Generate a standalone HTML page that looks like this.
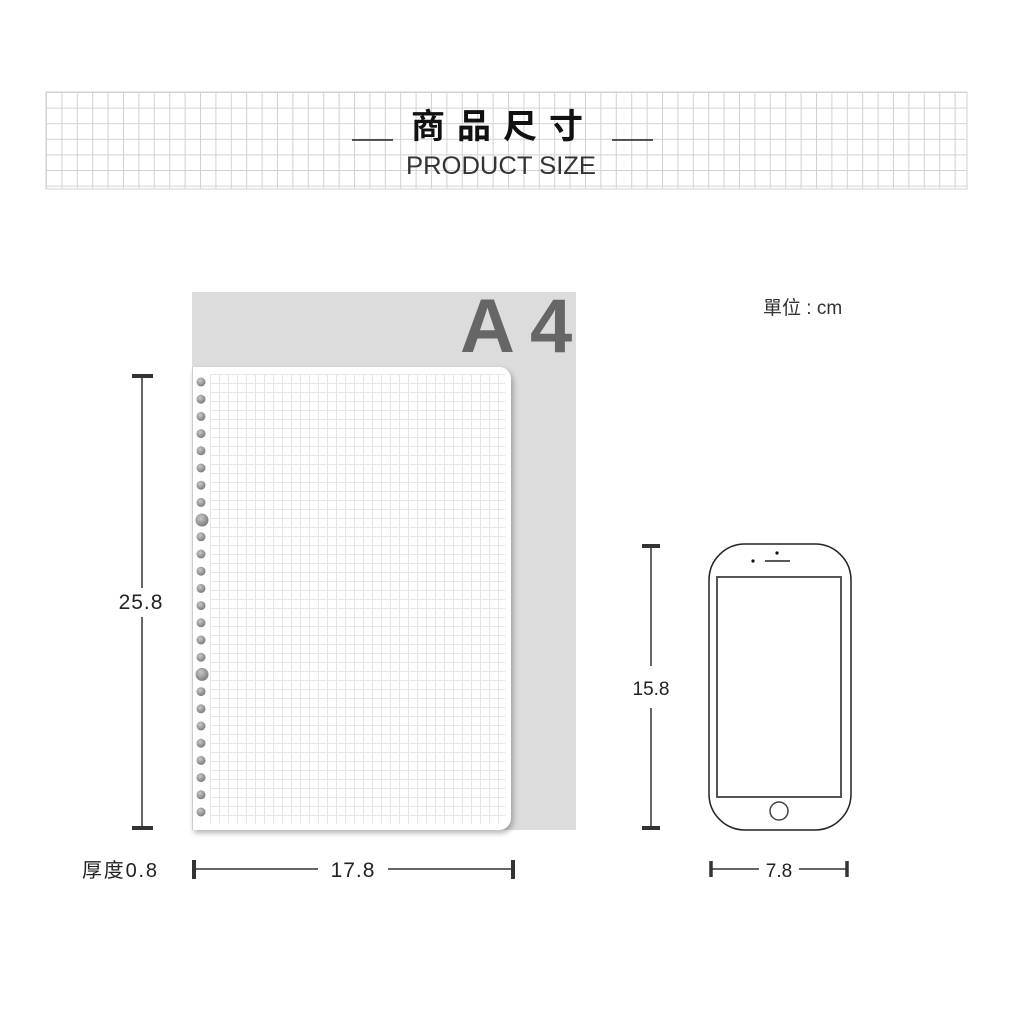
<!DOCTYPE html>
<html><head><meta charset="utf-8"><style>
html,body{margin:0;padding:0;background:#fff;}
svg{display:block;}
</style></head><body>
<svg width="1013" height="1013" viewBox="0 0 1013 1013" xmlns="http://www.w3.org/2000/svg">
<defs>
<pattern id="hg" x="46" y="92" width="15.4" height="15.6" patternUnits="userSpaceOnUse">
<path d="M0.5 0V15.6M0 0.5H15.4" stroke="#d2d2d2" stroke-width="1" fill="none"/>
</pattern>
<pattern id="ng" x="210" y="374" width="9" height="9" patternUnits="userSpaceOnUse">
<path d="M0.5 0V9M0 0.5H9" stroke="#e6e6e6" stroke-width="1" fill="none"/>
</pattern>
<radialGradient id="hole" cx="0.4" cy="0.35" r="0.7">
<stop offset="0" stop-color="#c8c8c8"/><stop offset="1" stop-color="#777"/>
</radialGradient>
<filter id="sh" x="-5%" y="-5%" width="115%" height="115%"><feDropShadow dx="2" dy="3" stdDeviation="3" flood-color="#000" flood-opacity="0.3"/></filter>
</defs>
<rect x="46" y="92" width="921" height="97" fill="url(#hg)" stroke="#d2d2d2"/>
<line x1="352" y1="140" x2="393" y2="140" stroke="#222" stroke-width="1.5"/>
<line x1="612" y1="140" x2="653" y2="140" stroke="#222" stroke-width="1.5"/>
<text x="503" y="138" text-anchor="middle" font-family="'Noto Sans CJK TC','WenQuanYi Zen Hei',sans-serif" font-size="34" font-weight="bold" letter-spacing="12" fill="#111">商品尺寸</text>
<text x="406" y="174" font-family="'Liberation Sans',sans-serif" font-size="25" fill="#333" textLength="190" lengthAdjust="spacingAndGlyphs">PRODUCT  SIZE</text>
<rect x="192" y="292" width="384" height="538" fill="#dcdcdc"/>
<text x="460" y="352" font-family="'Liberation Sans',sans-serif" font-weight="bold" font-size="76" fill="#666">A</text>
<text x="530" y="352" font-family="'Liberation Sans',sans-serif" font-weight="bold" font-size="76" fill="#666">4</text>
<path d="M192 367H499A12 12 0 0 1 511 379V818A12 12 0 0 1 499 830H192Z" fill="#fff" filter="url(#sh)"/>
<path d="M210 374H505V824H210Z" fill="url(#ng)"/>
<line x1="192.5" y1="367" x2="192.5" y2="830" stroke="#ccc"/>
<g fill="url(#hole)">
<circle cx="201" cy="382" r="4.5"/><circle cx="201" cy="399.2" r="4.5"/><circle cx="201" cy="416.4" r="4.5"/><circle cx="201" cy="433.6" r="4.5"/><circle cx="201" cy="450.8" r="4.5"/><circle cx="201" cy="468" r="4.5"/><circle cx="201" cy="485.2" r="4.5"/><circle cx="201" cy="502.4" r="4.5"/><circle cx="202" cy="520" r="6.5"/><circle cx="201" cy="536.8" r="4.5"/><circle cx="201" cy="554" r="4.5"/><circle cx="201" cy="571.2" r="4.5"/><circle cx="201" cy="588.4" r="4.5"/><circle cx="201" cy="605.6" r="4.5"/><circle cx="201" cy="622.8" r="4.5"/><circle cx="201" cy="640" r="4.5"/><circle cx="201" cy="657.2" r="4.5"/><circle cx="202" cy="674.4" r="6.5"/><circle cx="201" cy="691.6" r="4.5"/><circle cx="201" cy="708.8" r="4.5"/><circle cx="201" cy="726" r="4.5"/><circle cx="201" cy="743.2" r="4.5"/><circle cx="201" cy="760.4" r="4.5"/><circle cx="201" cy="777.6" r="4.5"/><circle cx="201" cy="794.8" r="4.5"/><circle cx="201" cy="812" r="4.5"/>
</g>
<text x="763" y="314" font-family="'Liberation Sans','Noto Sans CJK TC',sans-serif" font-size="19" fill="#333">單位 : cm</text>
<g stroke="#333">
<line x1="142" y1="376" x2="142" y2="588" stroke-width="1.5"/>
<line x1="142" y1="617" x2="142" y2="828" stroke-width="1.5"/>
<line x1="132" y1="376" x2="153" y2="376" stroke-width="4"/>
<line x1="132" y1="828" x2="153" y2="828" stroke-width="4"/>
<line x1="194" y1="869" x2="318" y2="869" stroke-width="1.5"/>
<line x1="388" y1="869" x2="513" y2="869" stroke-width="1.5"/>
<line x1="194" y1="860" x2="194" y2="879" stroke-width="4"/>
<line x1="513" y1="860" x2="513" y2="879" stroke-width="4"/>
<line x1="651" y1="546" x2="651" y2="666" stroke-width="1.5"/>
<line x1="651" y1="708" x2="651" y2="828" stroke-width="1.5"/>
<line x1="642" y1="546" x2="660" y2="546" stroke-width="4"/>
<line x1="642" y1="828" x2="660" y2="828" stroke-width="4"/>
<line x1="711" y1="869" x2="759" y2="869" stroke-width="1.5"/>
<line x1="799" y1="869" x2="847" y2="869" stroke-width="1.5"/>
<line x1="711" y1="861" x2="711" y2="877" stroke-width="3.5"/>
<line x1="847" y1="861" x2="847" y2="877" stroke-width="3.5"/>
</g>
<g font-family="'Liberation Sans','Noto Sans CJK TC',sans-serif" fill="#222">
<text x="141" y="609" text-anchor="middle" font-size="21" letter-spacing="1">25.8</text>
<text x="82" y="877" font-size="20" letter-spacing="1.8">厚度0.8</text>
<text x="353" y="877" text-anchor="middle" font-size="21" letter-spacing="1">17.8</text>
<text x="651" y="695" text-anchor="middle" font-size="19">15.8</text>
<text x="779" y="877" text-anchor="middle" font-size="19">7.8</text>
</g>
<rect x="709" y="544" width="142" height="286" rx="36" fill="#fff" stroke="#222" stroke-width="1.5"/>
<rect x="717" y="577" width="124" height="220" fill="none" stroke="#555" stroke-width="2"/>
<circle cx="779" cy="811" r="9" fill="none" stroke="#444" stroke-width="1.5"/>
<line x1="765" y1="561" x2="790" y2="561" stroke="#222" stroke-width="1.5"/>
<circle cx="777" cy="553" r="1.6" fill="#111"/>
<circle cx="753" cy="561" r="1.6" fill="#111"/>
</svg>
</body></html>
